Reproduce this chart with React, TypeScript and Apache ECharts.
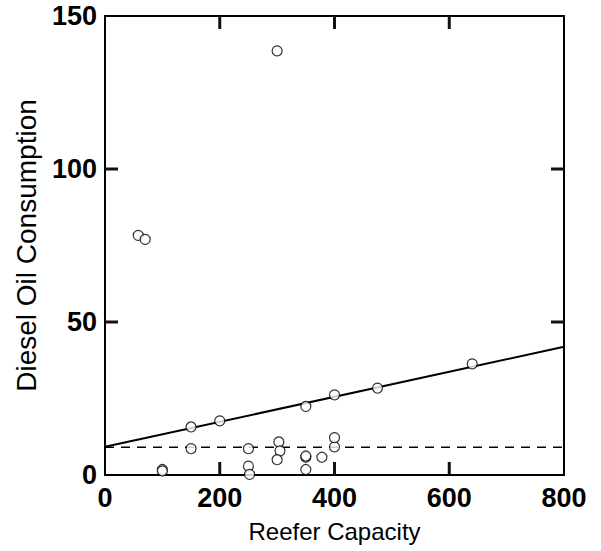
import React, { useEffect, useRef } from "react";
import * as echarts from "echarts";

const capacity = [300, 58, 70, 150, 200, 350, 400, 475, 640, 150, 250, 400, 400, 303, 305, 300, 350, 350, 350, 378, 250, 252, 100, 100];
const consumption = [138.6, 78.3, 77, 15.7, 17.7, 22.4, 26.2, 28.4, 36.3, 8.6, 8.6, 9.2, 12.2, 10.8, 7.9, 5, 5.8, 6.2, 1.8, 5.8, 2.9, 0.2, 1.8, 1.3];
const fitSolidX = [0, 800];
const fitSolidY = [9.2, 41.9];
const fitDashedX = [0, 800];
const fitDashedY = [9.1, 9.1];
const xTicks = [0, 200, 400, 600, 800];
const yTicks = [0, 50, 100, 150];

const FONT = "Liberation Sans";
const TICK_LEN = 13;

export default function App() {
  const ref = useRef<HTMLDivElement>(null);
  useEffect(() => {
    const chart = echarts.init(ref.current!, undefined, { renderer: "svg" });
    const axisLine = { show: true, onZero: false, lineStyle: { color: "#000", width: 2 } };
    const xBase = {
      type: "value",
      min: xTicks[0],
      max: xTicks[xTicks.length - 1],
      interval: 200,
      splitLine: { show: false },
      axisTick: { show: false },
      axisLine,
    };
    const yBase = {
      type: "value",
      min: yTicks[0],
      max: yTicks[yTicks.length - 1],
      interval: 50,
      splitLine: { show: false },
      axisTick: { show: false },
      axisLine,
    };
    chart.setOption({
      animation: false,
      backgroundColor: "#fff",
      grid: { left: 105, top: 16, width: 459, height: 459 },
      xAxis: [
        {
          ...xBase,
          position: "bottom",
          axisLabel: { color: "#000", fontFamily: FONT, fontSize: 27, fontWeight: "bold", margin: 9 },
          name: "Reefer Capacity",
          nameLocation: "middle",
          nameGap: 44,
          nameTextStyle: { color: "#000", fontFamily: FONT, fontSize: 24 },
        },
        { ...xBase, position: "top", axisLabel: { show: false } },
      ],
      yAxis: [
        {
          ...yBase,
          position: "left",
          axisLabel: { color: "#000", fontFamily: FONT, fontSize: 27, fontWeight: "bold", margin: 8 },
          name: "Diesel Oil Consumption",
          nameLocation: "middle",
          nameGap: 65,
          nameTextStyle: { color: "#000", fontFamily: FONT, fontSize: 28 },
        },
        { ...yBase, position: "right", axisLabel: { show: false } },
      ],
      series: [
        {
          type: "line",
          data: fitSolidX.map((x, i) => [x, fitSolidY[i]]),
          showSymbol: false,
          symbol: "none",
          lineStyle: { color: "#000", width: 2 },
          z: 2,
        },
        {
          type: "line",
          data: fitDashedX.map((x, i) => [x, fitDashedY[i]]),
          showSymbol: false,
          symbol: "none",
          lineStyle: { color: "#000", width: 1.5, type: [9, 7] },
          z: 2,
        },
        {
          type: "scatter",
          data: capacity.map((x, i) => [x, consumption[i]]),
          symbol: "circle",
          symbolSize: 10,
          itemStyle: { color: "#fff", borderColor: "#000", borderWidth: 1.2 },
          z: 3,
        },
      ],
    });

    // Inward tick marks on all four sides, placed through the axes' scales
    const bottom = chart.convertToPixel({ yAxisIndex: 0 }, yTicks[0]) as number;
    const top = chart.convertToPixel({ yAxisIndex: 0 }, yTicks[yTicks.length - 1]) as number;
    const left = chart.convertToPixel({ xAxisIndex: 0 }, xTicks[0]) as number;
    const right = chart.convertToPixel({ xAxisIndex: 0 }, xTicks[xTicks.length - 1]) as number;
    const tickStyle = { stroke: "#111111", lineWidth: 3 };
    const elements: any[] = [];
    xTicks.slice(1, -1).forEach((v) => {
      const px = chart.convertToPixel({ xAxisIndex: 0 }, v) as number;
      elements.push({ type: "line", shape: { x1: px, y1: bottom, x2: px, y2: bottom - TICK_LEN }, style: tickStyle, z: 10 });
      elements.push({ type: "line", shape: { x1: px, y1: top, x2: px, y2: top + TICK_LEN }, style: tickStyle, z: 10 });
    });
    yTicks.slice(1, -1).forEach((v) => {
      const py = chart.convertToPixel({ yAxisIndex: 0 }, v) as number;
      elements.push({ type: "line", shape: { x1: left, y1: py, x2: left + TICK_LEN, y2: py }, style: tickStyle, z: 10 });
      elements.push({ type: "line", shape: { x1: right, y1: py, x2: right - TICK_LEN, y2: py }, style: tickStyle, z: 10 });
    });
    chart.setOption({ graphic: elements });

    return () => chart.dispose();
  }, []);
  return (
    <div
      ref={ref}
      style={{ position: "fixed", left: 0, top: 0, width: 601, height: 551 }}
    />
  );
}
